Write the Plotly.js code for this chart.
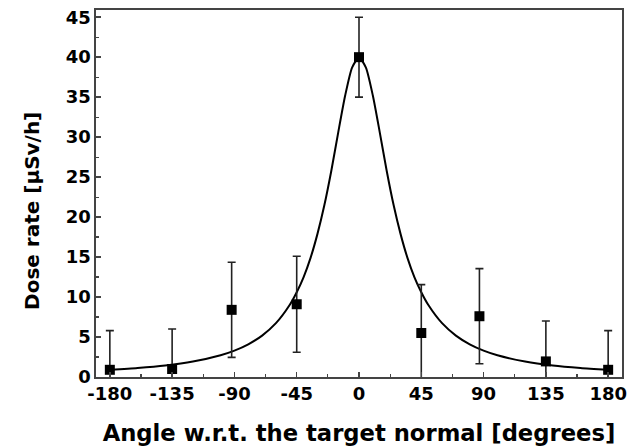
<!DOCTYPE html>
<html>
<head>
<meta charset="utf-8">
<script src="https://cdn.plot.ly/plotly-3.0.1.min.js"></script>
<style>html,body{margin:0;padding:0;background:#fff;}#chart{width:631px;height:446px;}</style>
</head>
<body>
<div id="chart"></div>
<script>
// Measured points (angle in degrees, dose rate in µSv/h, error)
const angles = [-180, -135, -92, -45, 0, 45, 87, 135, 180];
const doseRate = [0.9, 1.0, 8.4, 9.1, 40.0, 5.5, 7.6, 1.95, 0.9];
const doseErr = [4.9, 5.0, 5.95, 6.0, 5.0, 6.05, 5.95, 5.05, 4.9];

// Fitted curve
const fitAngles = [-180, -160, -140, -120, -100, -90, -80, -70, -60, -50, -45, -40, -35, -30, -25, -20, -15, -10, -5, 0,
                   5, 10, 15, 20, 25, 30, 35, 40, 45, 50, 60, 70, 80, 90, 100, 120, 140, 160, 180];
const fitDose = [0.88, 1.11, 1.43, 1.93, 2.72, 3.3, 4.09, 5.18, 6.73, 9.03, 10.6, 12.5, 14.9, 17.9, 21.5, 25.8, 30.6, 35.2, 38.7, 40.0,
                 38.7, 35.2, 30.6, 25.8, 21.5, 17.9, 14.9, 12.5, 10.6, 9.03, 6.73, 5.18, 4.09, 3.3, 2.72, 1.93, 1.43, 1.11, 0.88];

const xTicks = [-180, -135, -90, -45, 0, 45, 90, 135, 180];
const yTicks = [0, 5, 10, 15, 20, 25, 30, 35, 40, 45];

const fontFam = 'DejaVu Sans, Arial, sans-serif';

const traces = [
  {
    x: fitAngles, y: fitDose, type: 'scatter', mode: 'lines',
    line: {color: '#000', width: 2, shape: 'spline', smoothing: 0.6},
    hoverinfo: 'skip', cliponaxis: true
  },
  {
    x: angles, y: doseRate, type: 'scatter', mode: 'markers',
    marker: {symbol: 'square', size: 10, color: '#000'},
    error_y: {type: 'data', array: doseErr, visible: true, color: '#222', thickness: 1.6, width: 4},
    cliponaxis: true
  }
];

const axisCommon = {
  showline: true, mirror: true, linecolor: '#444', linewidth: 1.6,
  ticks: 'inside', ticklen: 5, tickwidth: 1.5, tickcolor: '#444',
  showgrid: false, zeroline: false,
  tickfont: {family: fontFam, size: 18, color: '#000', weight: 'bold'}
};

const layout = {
  width: 631, height: 446,
  margin: {l: 96, r: 9, t: 10, b: 69},
  paper_bgcolor: '#fff', plot_bgcolor: '#fff',
  showlegend: false,
  xaxis: Object.assign({}, axisCommon, {
    range: [-190, 190], tickvals: xTicks, ticktext: xTicks.map(String),
    minor: {ticks: 'inside', ticklen: 3, tickwidth: 1.2, tickcolor: '#444', dtick: 22.5, tick0: 0},
    title: {text: 'Angle w.r.t. the target normal [degrees]', font: {family: fontFam, size: 22.7, color: '#000', weight: 'bold'}, standoff: 22}
  }),
  yaxis: Object.assign({}, axisCommon, {
    range: [0, 45.9], tickvals: yTicks, ticktext: yTicks.map(String),
    minor: {ticks: 'inside', ticklen: 3, tickwidth: 1.2, tickcolor: '#444', dtick: 2.5, tick0: 0}
  }),
  annotations: [{
    text: 'Dose rate [µSv/h]', textangle: -90, showarrow: false,
    xref: 'paper', yref: 'paper', x: -0.122, y: 0.452, xanchor: 'center', yanchor: 'middle',
    font: {family: fontFam, size: 20, color: '#000', weight: 'bold'}
  }]
};

Plotly.newPlot('chart', traces, layout, {displayModeBar: false, staticPlot: true});
</script>
</body>
</html>
